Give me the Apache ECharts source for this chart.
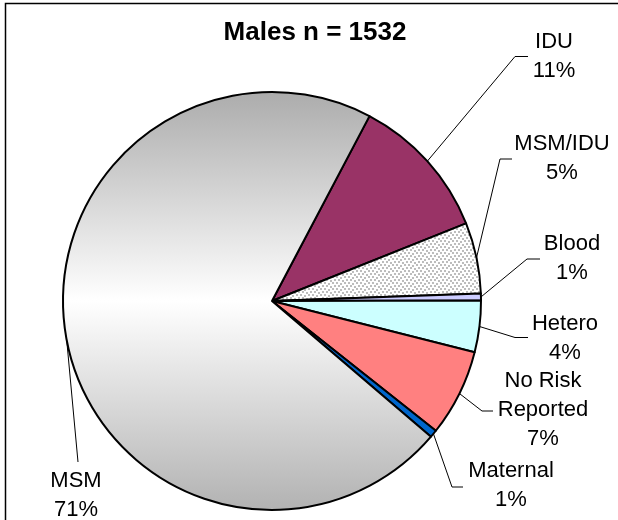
<!DOCTYPE html>
<html>
<head>
<meta charset="utf-8">
<script src="https://cdn.jsdelivr.net/npm/echarts@6/dist/echarts.min.js"></script>
<style>html,body{margin:0;padding:0;background:#fff;}#c{width:618px;height:520px;}</style>
</head>
<body>
<div id="c"></div>
<script>
// ---- data ----
var categories = ['IDU', 'MSM/IDU', 'Blood', 'Hetero', 'No Risk\nReported', 'Maternal', 'MSM'];
var counts = [172, 84, 8, 61, 103, 9, 1095];
var titleText = 'Males n = 1532';

// ---- styling / layout (not data) ----
var FONT = 'Liberation Sans, Arial, sans-serif';
var labelAnchors = [
  {x: 554, y: 56,  line: [[515, 56.5], [528, 56.5]]},
  {x: 562, y: 158.5, line: [[500, 159], [512, 159]]},
  {x: 572, y: 258, line: [[527, 259], [540, 259]]},
  {x: 565, y: 338, line: [[515, 337.5], [528, 337.5]]},
  {x: 543, y: 410, line: [[482, 411], [493, 411]]},
  {x: 511, y: 485.5, line: [[452, 487], [463, 487]]},
  {x: 76,  y: 495, line: [[78, 462], [78, 462]]}
];

function makePattern() {
  var c = document.createElement('canvas');
  c.width = 12; c.height = 12;
  var g = c.getContext('2d');
  g.fillStyle = '#ffffff';
  g.fillRect(0, 0, 12, 12);
  g.fillStyle = '#bdbdbd';
  var dots = [[0,0],[4,1],[8,0],[2,3],[6,4],[10,3],[0,6],[4,7],[8,6],[2,9],[6,10],[10,9]];
  dots.forEach(function (d) { g.fillRect(d[0], d[1], 2, 2); });
  return c;
}

var colors = [
  '#993366',
  {image: makePattern(), repeat: 'repeat'},
  '#ccccff',
  '#ccffff',
  '#ff8080',
  '#0066cc',
  {type: 'linear', x: 0, y: 92, x2: 0, y2: 510, global: true,
   colorStops: [{offset: 0, color: '#acacac'}, {offset: 0.5, color: '#ffffff'}, {offset: 1, color: '#b2b2b2'}]}
];

var seriesData = categories.map(function (name, i) {
  return {name: name, value: counts[i], itemStyle: {color: colors[i]}};
});

var chart = echarts.init(document.getElementById('c'), null, {renderer: 'canvas'});
chart.setOption({
  animation: false,
  backgroundColor: '#ffffff',
  graphic: [
    {type: 'rect', z: -10, shape: {x: 5.5, y: 3.5, width: 800, height: 800},
     style: {fill: 'none', stroke: '#000', lineWidth: 1.5}},
    {type: 'text', z: 10, style: {text: titleText, x: 315, y: 33, textAlign: 'center', textVerticalAlign: 'middle',
      font: 'bold 26px ' + FONT, fill: '#000'}}
  ],
  series: [{
    type: 'pie',
    center: [272, 301],
    radius: 209,
    startAngle: 62.2,
    clockwise: true,
    avoidLabelOverlap: false,
    data: seriesData,
    itemStyle: {borderColor: '#000', borderWidth: 2},
    emphasis: {disabled: true},
    label: {
      show: true,
      position: 'outside',
      color: '#000',
      fontFamily: FONT,
      fontSize: 22,
      lineHeight: 29,
      align: 'center',
      formatter: function (p) { return p.name + '\n' + Math.round(p.percent) + '%'; }
    },
    labelLine: {show: true, length: 10, length2: 10, lineStyle: {color: '#000', width: 1}},
    labelLayout: function (p) {
      var a = labelAnchors[p.dataIndex];
      var start = p.labelLinePoints ? p.labelLinePoints[0] : a.line[0];
      return {
        x: a.x, y: a.y, align: 'center', verticalAlign: 'middle',
        labelLinePoints: [start, a.line[0], a.line[1]]
      };
    }
  }]
});
</script>
</body>
</html>
